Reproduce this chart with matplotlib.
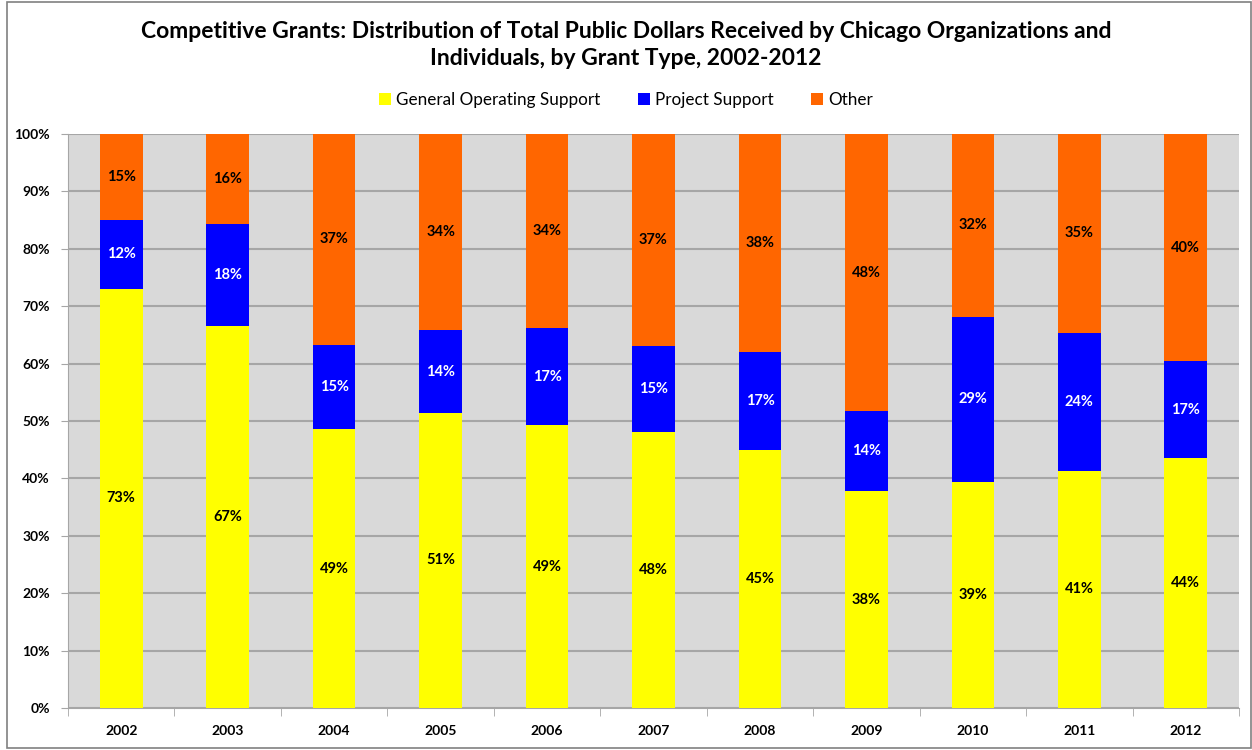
import matplotlib
matplotlib.use("Agg")
from matplotlib import pyplot as plt
from matplotlib.patches import Rectangle
import numpy as np

## Dados (percentuais)
years = ["2002", "2003", "2004", "2005", "2006", "2007", "2008", "2009", "2010", "2011", "2012"]
general_operating = [73.0, 66.6, 48.6, 51.4, 49.3, 48.0, 45.0, 37.8, 39.3, 41.3, 43.6]
project_support = [12.1, 17.8, 14.7, 14.4, 16.9, 15.1, 17.0, 13.9, 28.9, 24.1, 16.8]
other = [14.9, 15.6, 36.7, 34.2, 33.8, 36.9, 38.0, 48.3, 31.8, 34.6, 39.6]

series = [
    ("General Operating Support", general_operating, "#FFFF00", "black"),
    ("Project Support", project_support, "#0000FF", "white"),
    ("Other", other, "#FF6600", "black"),
]

plt.rcParams['font.family'] = ['Lato', 'DejaVu Sans']

fig = plt.figure(figsize=(12.52, 7.5), dpi=100)
ax = fig.add_axes([68 / 1252, 1 - 708 / 750, (1239 - 68) / 1252, (708 - 134) / 750])

x = np.arange(len(years))
bottom = np.zeros(len(years))
handles = []
for name, vals, color, txt_color in series:
    vals = np.array(vals)
    b = ax.bar(x, vals, 0.4, bottom=bottom, color=color, label=name, zorder=3)
    handles.append(b)
    for xi, v, bt in zip(x, vals, bottom):
        ax.text(xi, bt + v / 2, "%d%%" % round(v), ha="center", va="center",
                fontsize=10.5, fontweight="bold", color=txt_color, zorder=4)
    bottom = bottom + vals

## Eixos
ax.set_facecolor("#D9D9D9")
ax.set_xlim(-0.5, len(years) - 0.5)
ax.set_ylim(0, 100)
ax.set_yticks(np.arange(0, 101, 10))
ax.set_yticklabels(["%d%%" % t for t in range(0, 101, 10)], fontsize=10, fontweight="bold")
ax.set_xticks(x)
ax.set_xticklabels(years, fontsize=10, fontweight="bold")
ax.set_xticks(np.arange(-0.5, len(years)), minor=True)
ax.tick_params(axis="x", which="major", length=0, pad=12)
ax.tick_params(axis="x", which="minor", length=6, color="#A6A6A6")
ax.tick_params(axis="y", length=5, color="#A6A6A6", pad=8)
ax.yaxis.grid(True, color="#A6A6A6", linewidth=1.5, zorder=0)
ax.set_axisbelow(True)
for side in ["top", "right"]:
    ax.spines[side].set_visible(False)
ax.spines["left"].set_color("#A6A6A6")
ax.spines["bottom"].set_color("#A6A6A6")

## Titulo e legenda
fig.text(0.5, 1 - 45 / 750,
         "Competitive Grants: Distribution of Total Public Dollars Received by Chicago Organizations and\n"
         "Individuals, by Grant Type, 2002-2012",
         ha="center", va="center", fontsize=16.5, fontweight="bold", linespacing=1.3)
fig.legend(handles=handles, loc="center", bbox_to_anchor=(0.5, 1 - 100 / 750), ncol=3,
           frameon=False, fontsize=12.3, handlelength=0.7, handleheight=0.7,
           handletextpad=0.3, columnspacing=2.2)

## Borda
fig.patches.append(Rectangle((7 / 1252, 2 / 750), 1 - 8 / 1252, 1 - 4 / 750,
                             transform=fig.transFigure, fill=False,
                             edgecolor="#808080", linewidth=1.2))

fig.savefig("out.png", dpi=100)
